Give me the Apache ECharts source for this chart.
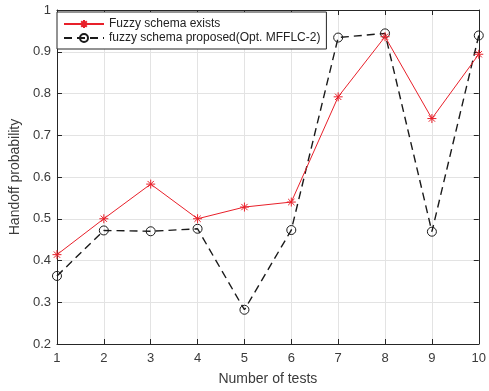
<!DOCTYPE html>
<html>
<head>
<meta charset="utf-8">
<script src="https://cdn.jsdelivr.net/npm/echarts@6/dist/echarts.min.js"></script>
<style>
  html, body { margin: 0; padding: 0; background: #fff; }
  #chart { width: 489px; height: 391px; }
</style>
</head>
<body>
<div id="chart"></div>
<script>
// Handoff probability per test run, existing fuzzy scheme vs proposed one
const tests = [1, 2, 3, 4, 5, 6, 7, 8, 9, 10];
const existing = [0.414, 0.500, 0.583, 0.500, 0.528, 0.540, 0.792, 0.936, 0.740, 0.894];
const proposed = [0.363, 0.472, 0.470, 0.476, 0.282, 0.473, 0.934, 0.944, 0.469, 0.939];
const seriesNames = ['Fuzzy schema exists', 'fuzzy schema proposed(Opt. MFFLC-2)'];
const yTicks = [0.2, 0.3, 0.4, 0.5, 0.6, 0.7, 0.8, 0.9, 1];

const ink = '#262626';
const labelInk = '#3a3a3a';
const font = '"Liberation Sans", Arial, Helvetica, sans-serif';
const asterisk = 'path://M0,-10L0,10M-10,0L10,0M-7,-7L7,7M-7,7L7,-7';

const chart = echarts.init(document.getElementById('chart'), null, { renderer: 'canvas' });

const pairs = (ys) => tests.map((x, i) => [x, ys[i]]);

const axisCommon = {
  type: 'value',
  axisLine: { show: true, onZero: false, lineStyle: { color: ink, width: 1 } },
  axisTick: { show: true, inside: true, length: 5, lineStyle: { color: ink } },
};

chart.setOption({
  animation: false,
  backgroundColor: '#fff',
  grid: { left: 55, right: 6, top: 10, bottom: 43, containLabel: false },
  xAxis: [
    Object.assign({}, axisCommon, {
      min: 1, max: 10, interval: 1, position: 'bottom',
      axisLabel: { color: labelInk, fontFamily: font, fontSize: 13, margin: 8 },
      splitLine: { show: true, lineStyle: { color: '#e3e3e3', width: 1 } },
      name: 'Number of tests', nameLocation: 'middle', nameGap: 28,
      nameTextStyle: { color: labelInk, fontFamily: font, fontSize: 14 }
    }),
    Object.assign({}, axisCommon, {
      min: 1, max: 10, interval: 1, position: 'top',
      axisLabel: { show: false }, splitLine: { show: false }
    })
  ],
  yAxis: [
    Object.assign({}, axisCommon, {
      min: yTicks[0], max: yTicks[yTicks.length - 1], interval: 0.1, position: 'left',
      axisLabel: { color: labelInk, fontFamily: font, fontSize: 13, margin: 6,
        formatter: (v) => String(Math.round(v * 10) / 10) },
      splitLine: { show: true, lineStyle: { color: '#e3e3e3', width: 1 } },
      name: 'Handoff probability', nameLocation: 'middle', nameGap: 30, nameRotate: 90,
      nameTextStyle: { color: labelInk, fontFamily: font, fontSize: 14 }
    }),
    Object.assign({}, axisCommon, {
      min: yTicks[0], max: yTicks[yTicks.length - 1], interval: 0.1, position: 'right',
      axisLabel: { show: false }, splitLine: { show: false }
    })
  ],
  legend: {
    left: 57, top: 12, orient: 'vertical',
    backgroundColor: '#fff', borderColor: ink, borderWidth: 1,
    padding: [6, 6, 5, 6], itemGap: 2, itemWidth: 40, itemHeight: 10,
    textStyle: { color: '#222', fontFamily: font, fontSize: 12 },
    data: seriesNames
  },
  series: [
    {
      name: seriesNames[0], type: 'line', data: pairs(existing),
      symbol: asterisk, symbolSize: 9,
      lineStyle: { color: '#e8202a', width: 1 },
      itemStyle: { color: 'transparent', borderColor: '#e8202a', borderWidth: 1 },
      z: 3
    },
    {
      name: seriesNames[1], type: 'line', data: pairs(proposed),
      symbol: 'circle', symbolSize: 9,
      lineStyle: { color: '#1a1a1a', width: 1.4, type: [8, 5] },
      itemStyle: { color: 'transparent', borderColor: '#1a1a1a', borderWidth: 1 },
      z: 2
    }
  ]
});
</script>
</body>
</html>
